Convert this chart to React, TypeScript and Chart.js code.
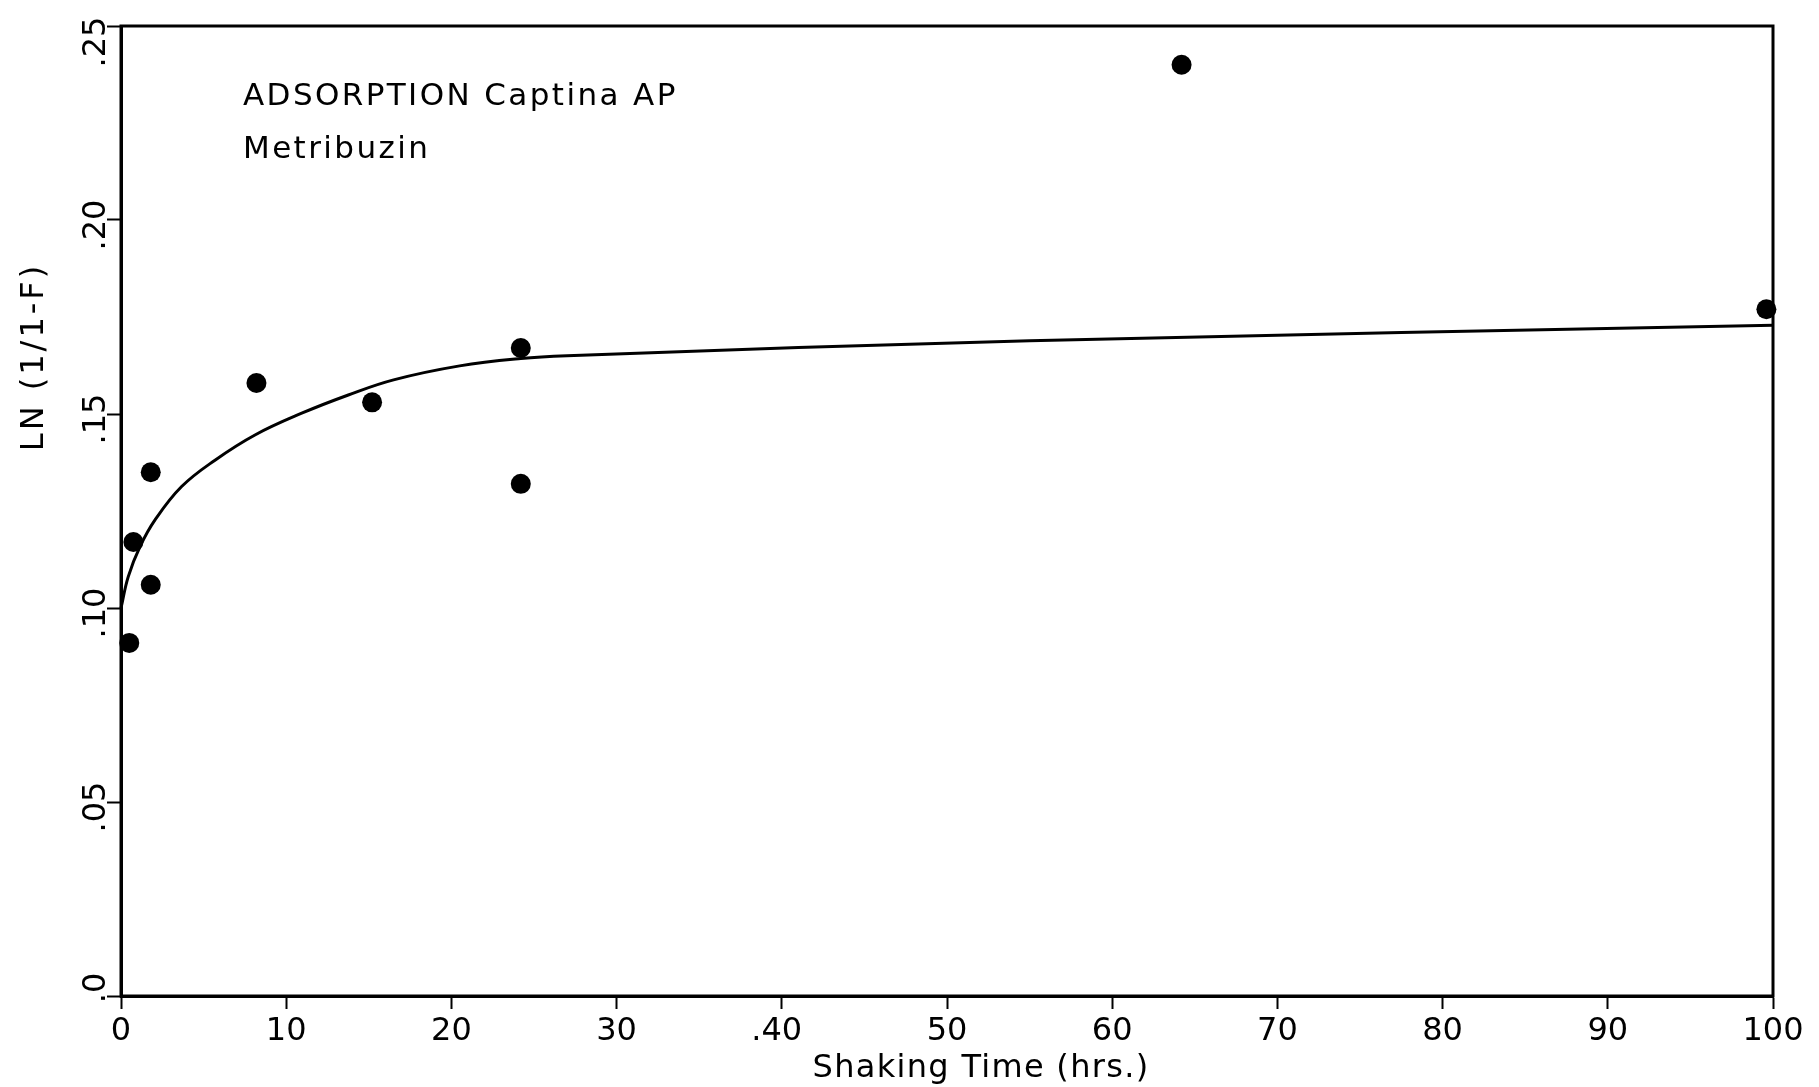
import React, { useEffect, useRef } from "react";
import { Chart, registerables } from "chart.js";

Chart.register(...registerables);

// Measured points: shaking time (hrs) vs LN(1/1-F)
const pointTimes = [0.5, 0.75, 1.8, 1.8, 8.2, 15.2, 24.2, 24.2, 64.2, 99.6];
const pointValues = [0.091, 0.117, 0.135, 0.106, 0.158, 0.153, 0.167, 0.132, 0.24, 0.177];

// Hand-drawn fitted curve
const curveTimes = [0, 0.44, 1.15, 2.06, 3.67, 5.69, 8.11, 10.94, 13.76, 16.5, 20.5, 24.2, 27, 55, 100];
const curveValues = [0.1, 0.1081, 0.1158, 0.1227, 0.1313, 0.1381, 0.1446, 0.1502, 0.1549, 0.1588, 0.1624, 0.1643, 0.165, 0.1689, 0.1729];

const xTickValues = [0, 10, 20, 30, 40, 50, 60, 70, 80, 90, 100];
const xTickLabels = ["0", "10", "20", "30", ".40", "50", "60", "70", "80", "90", "100"];
const yTickValues = [0, 0.05, 0.1, 0.15, 0.2, 0.25];
const yTickLabels = [".0", ".05", ".10", ".15", ".20", ".25"];

const titleLines = ["ADSORPTION Captina AP", "Metribuzin"];
const xAxisTitle = "Shaking Time (hrs.)";
const yAxisTitle = "LN (1/1-F)";

const FONT = '"DejaVu Sans", "Liberation Sans", sans-serif';

const textPlugin = {
  id: "customText",
  afterDraw(chart: any) {
    const { ctx, chartArea: a, scales } = chart;
    const xs = scales.x;
    const ys = scales.y;
    ctx.save();
    // frame
    ctx.strokeStyle = "#000";
    ctx.lineWidth = 3;
    ctx.strokeRect(a.left, a.top, a.right - a.left, a.bottom - a.top);

    ctx.fillStyle = "#000";
    // x tick labels
    ctx.font = `32px ${FONT}`;
    ctx.textBaseline = "alphabetic";
    xTickValues.forEach((v, i) => {
      const px = xs.getPixelForValue(v);
      const lab = xTickLabels[i];
      if (lab.startsWith(".")) {
        const w = ctx.measureText(lab.slice(1)).width;
        ctx.textAlign = "right";
        ctx.fillText(lab, px + w / 2, a.bottom + 44);
      } else {
        ctx.textAlign = "center";
        ctx.fillText(lab, px, a.bottom + 44);
      }
    });

    // y tick labels (rotated)
    yTickValues.forEach((v, i) => {
      const py = ys.getPixelForValue(v);
      const cy = Math.min(Math.max(py + 5, a.top + 16), a.bottom - 8);
      ctx.save();
      ctx.translate(a.left - 16, cy);
      ctx.rotate(-Math.PI / 2);
      ctx.textAlign = "center";
      ctx.textBaseline = "alphabetic";
      ctx.fillText(yTickLabels[i], 0, 0);
      ctx.restore();
    });

    // chart title lines
    ctx.font = `31px ${FONT}`;
    (ctx as any).letterSpacing = "2.4px";
    ctx.textAlign = "left";
    ctx.fillText(titleLines[0], a.left + 122, a.top + 79);
    ctx.fillText(titleLines[1], a.left + 122, a.top + 132);

    // x axis title
    ctx.font = `32px ${FONT}`;
    (ctx as any).letterSpacing = "1.3px";
    ctx.textAlign = "center";
    ctx.fillText(xAxisTitle, (a.left + a.right) / 2 + 34, a.bottom + 81);

    // y axis title
    (ctx as any).letterSpacing = "3px";
    ctx.save();
    ctx.translate(a.left - 78, a.top + 331);
    ctx.rotate(-Math.PI / 2);
    ctx.textAlign = "center";
    ctx.fillText(yAxisTitle, 0, 0);
    ctx.restore();
    (ctx as any).letterSpacing = "0px";
    ctx.restore();
  },
};

export default function App() {
  const ref = useRef<HTMLCanvasElement | null>(null);

  useEffect(() => {
    document.body.style.margin = "0";
    document.body.style.overflow = "hidden";
    const canvas = ref.current;
    if (!canvas) return;
    const chart = new Chart(canvas, {
      type: "scatter",
      data: {
        datasets: [
          {
            type: "line",
            data: curveTimes.map((t, i) => ({ x: t, y: curveValues[i] })),
            borderColor: "#000",
            borderWidth: 3,
            pointRadius: 0,
            tension: 0.4,
            fill: false,
            clip: false as any,
          },
          {
            type: "scatter",
            data: pointTimes.map((t, i) => ({ x: t, y: pointValues[i] })),
            backgroundColor: "#000",
            borderColor: "#000",
            pointRadius: 10,
            pointBorderWidth: 0,
            clip: false as any,
          },
        ],
      },
      options: {
        responsive: false,
        animation: false,
        devicePixelRatio: 1,
        layout: { padding: { top: 26, right: 46, left: 0, bottom: 0 } },
        plugins: {
          legend: { display: false },
          tooltip: { enabled: false },
          title: { display: false },
        },
        scales: {
          x: {
            type: "linear",
            min: 0,
            max: 100,
            ticks: { stepSize: 10, display: false },
            grid: {
              drawOnChartArea: false,
              drawTicks: true,
              tickLength: 13,
              color: "#000",
              tickWidth: 2,
            },
            border: { display: true, color: "#000", width: 3 },
            afterFit: (s: any) => {
              s.height = 91;
            },
          },
          y: {
            type: "linear",
            min: 0,
            max: 0.25,
            ticks: { stepSize: 0.05, display: false },
            grid: {
              drawOnChartArea: false,
              drawTicks: true,
              tickLength: 14,
              color: "#000",
              tickWidth: 2,
            },
            border: { display: true, color: "#000", width: 3 },
            afterFit: (s: any) => {
              s.width = 121;
            },
          },
        },
      },
      plugins: [textPlugin],
    });
    return () => chart.destroy();
  }, []);

  return (
    <div style={{ width: 1819, height: 1087, background: "#fff" }}>
      <canvas ref={ref} width={1819} height={1087} style={{ display: "block" }} />
    </div>
  );
}
